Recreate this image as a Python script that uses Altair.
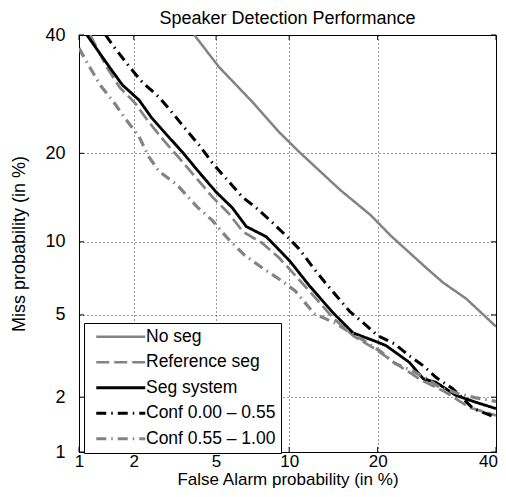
import altair as alt
import pandas as pd
from statistics import NormalDist

series = ["No seg", "Reference seg", "Seg system", "Conf 0.00 – 0.55", "Conf 0.55 – 1.00"]
colors = ["#838383", "#838383", "#000000", "#000000", "#838383"]
dashes = [[1, 0], [13, 5], [1, 0], [10, 5, 1.5, 5], [10, 5, 1.5, 5]]
widths = [2.5, 3.2, 2.5, 4.5, 3.2]

no_seg_fa = [3.98, 5.15, 7.15, 9.14, 10.9, 15.2, 19.0, 21.9, 27.4, 30.3, 34.4, 40.0]
no_seg_miss = [40.0, 34.0, 27.9, 23.1, 20.2, 15.3, 12.56, 10.53, 7.92, 6.88, 5.89, 4.43]

ref_fa = [1.16, 1.43, 1.69, 2.03, 2.38, 2.83, 3.34, 4.02, 4.81, 5.66, 6.55, 7.84, 9.14,
          10.1, 11.96, 14.4, 16.77, 19.8, 23.1, 26.4, 30.6, 35.1, 40.0]
ref_miss = [40.0, 34.0, 30.3, 27.7, 24.7, 21.9, 19.5, 16.9, 14.5, 12.75, 10.89, 9.9, 8.68,
            7.76, 6.29, 4.84, 4.02, 3.45, 2.89, 2.47, 2.13, 1.76, 1.60]

seg_fa = [1.11, 1.48, 1.74, 2.13, 2.47, 2.93, 3.49, 4.18, 5.0, 5.89, 6.75, 8.15, 9.4, 10.1,
          11.87, 14.4, 16.77, 19.4, 21.2, 24.7, 26.9, 29.1, 32.6, 36.2, 40.0]
seg_miss = [40.0, 34.0, 30.8, 28.2, 25.3, 22.7, 20.2, 17.5, 15.06, 13.3, 11.4, 10.45, 9.06, 8.38,
            6.69, 5.1, 4.14, 3.82, 3.61, 3.0, 2.49, 2.38, 2.04, 1.88, 1.74]

c1_fa = [1.41, 1.54, 1.90, 2.21, 2.69, 3.13, 3.65, 4.18, 4.81, 5.6, 6.49, 7.41, 8.6, 9.83,
         10.89, 12.26, 13.6, 14.95, 16.3, 18.4, 20.0, 22.4, 24.7, 26.9, 29.1, 32.0, 35.7, 40.0]
c1_miss = [40.0, 38.1, 34.0, 31.3, 28.7, 26.1, 23.4, 21.2, 18.7, 16.5, 14.5, 13.3, 11.8, 10.45,
           9.4, 7.92, 6.82, 5.95, 5.2, 4.5, 4.02, 3.69, 3.23, 2.89, 2.52, 2.21, 1.74, 1.56]

c2_fa = [1.0, 1.15, 1.33, 1.56, 1.78, 2.13, 2.38, 2.69, 3.30, 4.10, 4.81, 5.6, 6.62, 7.84,
         9.23, 10.53, 12.36, 14.6, 18.1, 20.5, 22.5, 24.8, 27.2, 29.8, 32.9, 36.0, 40.0]
c2_miss = [37.5, 34.0, 30.6, 27.9, 25.4, 22.4, 19.6, 17.6, 15.9, 13.4, 12.0, 10.35, 8.9, 7.92,
           7.08, 6.36, 5.06, 4.6, 3.82, 3.37, 2.96, 2.76, 2.52, 2.24, 2.09, 1.99, 1.90]

tick_values = [1, 2, 5, 10, 20, 40]
tick_labels = ["1", "2", "5", "10", "20", "40"]

nd = NormalDist()


def probit(p):
    return nd.inv_cdf(p / 100.0)


curves = [(no_seg_fa, no_seg_miss), (ref_fa, ref_miss), (seg_fa, seg_miss),
          (c1_fa, c1_miss), (c2_fa, c2_miss)]
rows = []
for name, (fa, miss) in zip(series, curves):
    for i, (a, b) in enumerate(zip(fa, miss)):
        rows.append({"series": name, "i": i, "x": probit(a), "y": probit(b)})
df = pd.DataFrame(rows)

tz = [probit(v) for v in tick_values]
ticks_df = pd.DataFrame({"x": tz, "y": tz})
label_expr = " : ".join(
    f"abs(datum.value - ({z:.6f})) < 0.0001 ? '{lab}'" for z, lab in zip(tz, tick_labels)
) + " : ''"

W = 417
FONT = "Liberation Sans"
dom = [probit(1), probit(40)]
xscale = alt.Scale(domain=dom, nice=False, zero=False)
yscale = alt.Scale(domain=dom, nice=False, zero=False)

common_axis = dict(values=tz, labelExpr=label_expr, grid=True, gridDash=[1, 3],
                   gridColor="#000000", gridOpacity=0.8, ticks=False, tickSize=0,
                   domainColor="#000000", labelFont=FONT,
                   labelColor="#000000", titleFont=FONT,
                   titleFontWeight="normal", titleColor="#000000", labelFlush=False,
                   labelOverlap=False)

x_enc = alt.X("x:Q", scale=xscale,
              axis=alt.Axis(title="False Alarm probability (in %)", labelPadding=1,
                            titlePadding=2, labelFontSize=17, titleFontSize=17,
                            labelOffset={"condition": {"test": f"datum.value > {tz[-1] - 0.001:.6f}",
                                                       "value": -8}, "value": 0},
                            **common_axis))
y_enc = alt.Y("y:Q", scale=yscale,
              axis=alt.Axis(title="Miss probability (in %)", labelPadding=14,
                            titlePadding=16, labelFontSize=18, titleFontSize=18,
                            **common_axis))

legend = alt.Legend(title=None, orient="none", legendX=5, legendY=288,
                    symbolType="M-4,0H4", symbolSize=150, symbolOffset=23,
                    labelOffset=16.5, padding=5, rowPadding=6.5,
                    strokeColor="#000000", fillColor="#ffffff",
                    labelFont=FONT, labelFontSize=17.5, labelColor="#000000",
                    symbolFillColor="transparent")

lines = alt.Chart(df).mark_line(clip=True, strokeCap="butt", strokeJoin="round").encode(
    x=x_enc,
    y=y_enc,
    color=alt.Color("series:N", scale=alt.Scale(domain=series, range=colors), legend=legend),
    strokeDash=alt.StrokeDash("series:N", scale=alt.Scale(domain=series, range=dashes),
                              legend=legend),
    strokeWidth=alt.StrokeWidth("series:N", scale=alt.Scale(domain=series, range=widths),
                                legend=legend),
    order="i:Q",
    detail="series:N",
)

tick_len = 5
bottom_ticks = alt.Chart(ticks_df).mark_rule(color="#000000", strokeWidth=1).encode(
    x=x_enc, y=alt.value(W), y2=alt.value(W - tick_len))
top_ticks = alt.Chart(ticks_df).mark_rule(color="#000000", strokeWidth=1).encode(
    x=x_enc, y=alt.value(0), y2=alt.value(tick_len))
left_ticks = alt.Chart(ticks_df).mark_rule(color="#000000", strokeWidth=1).encode(
    y=y_enc, x=alt.value(0), x2=alt.value(tick_len))
right_ticks = alt.Chart(ticks_df).mark_rule(color="#000000", strokeWidth=1).encode(
    y=y_enc, x=alt.value(W), x2=alt.value(W - tick_len))

chart = alt.layer(lines, bottom_ticks, top_ticks, left_ticks, right_ticks).properties(
    width=W, height=W,
    title=alt.Title("Speaker Detection Performance", font=FONT, fontSize=18,
                    fontWeight="normal", color="#000000", offset=-2, anchor="middle",
                    frame="group"),
    autosize=alt.AutoSizeParams(type="none"),
    padding={"left": 71, "top": 27, "right": 2, "bottom": 37},
    background="#ffffff",
).configure_view(stroke="#000000", strokeWidth=1)

chart.save("out.html", embed_options={"renderer": "svg", "actions": False})
